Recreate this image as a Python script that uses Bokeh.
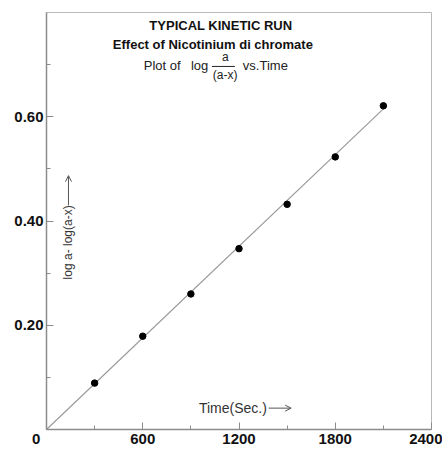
import math
from bokeh.plotting import figure
from bokeh.models import FixedTicker, Label, Arrow, OpenHead
from bokeh.embed import file_html
from bokeh.resources import INLINE

# data
time_s = [300, 600, 900, 1200, 1500, 1800, 2100]
log_ratio = [0.089, 0.179, 0.260, 0.347, 0.432, 0.523, 0.621]
fit_x = [0, 2100]
fit_y = [0, 0.615]
x_major = [0, 600, 1200, 1800, 2400]
x_minor = [300, 900, 1500, 2100]
x_tick_labels = {0: "0" + "\u00a0" * 5, 600: "600", 1200: "1200", 1800: "1800", 2400: "2400"}
y_major = [0.2, 0.4, 0.6]
y_minor = [0.1, 0.3, 0.5, 0.7]
y_tick_labels = {0.2: "0.20", 0.4: "0.40", 0.6: "0.60"}

FONT = "Liberation Sans"
AX = "#8c8c8c"

p = figure(width=442, height=449, output_backend="svg", toolbar_location=None,
           x_range=(0, 2400), y_range=(0, 0.8),
           min_border_left=46, min_border_right=11, min_border_top=12, min_border_bottom=12)
p.background_fill_color = "white"
p.border_fill_color = "white"
p.outline_line_color = "#b8b8b8"
p.outline_line_width = 1
p.xgrid.visible = False
p.ygrid.visible = False

for ax in (p.xaxis[0], p.yaxis[0]):
    ax.axis_line_color = AX
    ax.axis_line_width = 1.5
    ax.major_tick_line_color = AX
    ax.minor_tick_line_color = AX
    ax.major_tick_in = 7
    ax.major_tick_out = 0
    ax.minor_tick_in = 4
    ax.minor_tick_out = 0
    ax.major_label_text_font = FONT
    ax.major_label_text_font_style = "bold"
    ax.major_label_text_font_size = "15px"
    ax.major_label_text_color = "#111111"
    ax.major_label_standoff = 3

p.xaxis[0].ticker = FixedTicker(ticks=x_major, minor_ticks=x_minor)
p.xaxis[0].major_label_overrides = x_tick_labels
p.yaxis[0].ticker = FixedTicker(ticks=y_major, minor_ticks=y_minor)
p.yaxis[0].major_label_overrides = y_tick_labels
p.xaxis[0].major_label_standoff = 0

# fit line and points
p.line(fit_x, fit_y, line_color="#9a9a9a", line_width=1.2)
p.scatter(time_s, log_ratio, size=6.5, color="black")

TXT = "#222222"
# titles
p.add_layout(Label(x=1087, y=0.775, text="TYPICAL KINETIC RUN", text_align="center",
                   text_baseline="middle", text_font=FONT, text_font_style="bold",
                   text_font_size="13px", text_color="#111111"))
p.add_layout(Label(x=1037, y=0.739, text="Effect of Nicotinium di chromate", text_align="center",
                   text_baseline="middle", text_font=FONT, text_font_style="bold",
                   text_font_size="13px", text_color="#111111"))
p.add_layout(Label(x=606, y=0.698, text="Plot of", text_align="left",
                   text_baseline="middle", text_font=FONT,
                   text_font_size="13px", text_color=TXT))
p.add_layout(Label(x=900, y=0.698, text="log", text_align="left",
                   text_baseline="middle", text_font=FONT,
                   text_font_size="13px", text_color=TXT))
p.add_layout(Label(x=1115, y=0.714, text="a", text_align="center",
                   text_baseline="middle", text_font=FONT,
                   text_font_size="12px", text_color=TXT))
p.add_layout(Label(x=1113, y=0.681, text="(a-x)", text_align="center",
                   text_baseline="middle", text_font=FONT,
                   text_font_size="12px", text_color=TXT))
p.segment(x0=[1031], y0=[0.6965], x1=[1174], y1=[0.6965], line_color=TXT, line_width=1)
p.add_layout(Label(x=1224, y=0.698, text="vs.Time", text_align="left",
                   text_baseline="middle", text_font=FONT,
                   text_font_size="13px", text_color=TXT))

# axis labels inside plot
p.add_layout(Label(x=950, y=0.041, text="Time(Sec.)", text_align="left",
                   text_baseline="middle", text_font=FONT,
                   text_font_size="14px", text_color="#333333"))
p.add_layout(Arrow(end=OpenHead(size=6, line_color="#555555", line_width=1),
                   x_start=1385, y_start=0.041, x_end=1525, y_end=0.041,
                   line_color="#555555", line_width=1))
p.add_layout(Label(x=137, y=0.359, text="log a- log(a-x)", angle=math.pi / 2,
                   text_align="center", text_baseline="middle", text_font=FONT,
                   text_font_size="12px", text_color="#333333"))
p.add_layout(Arrow(end=OpenHead(size=6, line_color="#555555", line_width=1),
                   x_start=137, y_start=0.43, x_end=137, y_end=0.487,
                   line_color="#555555", line_width=1))

open("out.html", "w").write(file_html(p, INLINE))
